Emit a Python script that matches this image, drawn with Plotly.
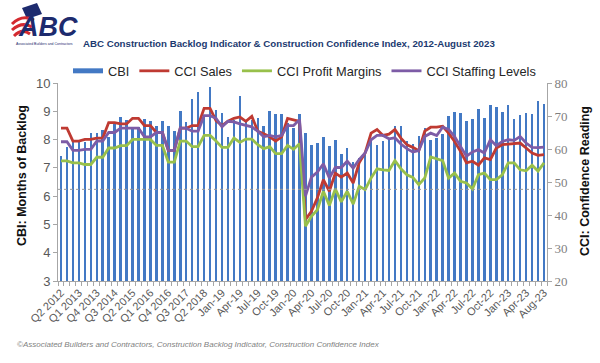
import plotly.graph_objects as go

# ---------------- data ----------------
categories = [
    "Q2 2012", "Q3 2012", "Q4 2012",
    "Q1 2013", "Q2 2013", "Q3 2013", "Q4 2013",
    "Q1 2014", "Q2 2014", "Q3 2014", "Q4 2014",
    "Q1 2015", "Q2 2015", "Q3 2015", "Q4 2015",
    "Q1 2016", "Q2 2016", "Q3 2016", "Q4 2016",
    "Q1 2017", "Q2 2017", "Q3 2017", "Q4 2017",
    "Q1 2018", "Q2 2018", "Q3 2018", "Q4 2018",
    "Jan-19", "Feb-19", "Mar-19", "Apr-19", "May-19", "Jun-19",
    "Jul-19", "Aug-19", "Sep-19", "Oct-19", "Nov-19", "Dec-19",
    "Jan-20", "Feb-20", "Mar-20", "Apr-20", "May-20", "Jun-20",
    "Jul-20", "Aug-20", "Sep-20", "Oct-20", "Nov-20", "Dec-20",
    "Jan-21", "Feb-21", "Mar-21", "Apr-21", "May-21", "Jun-21",
    "Jul-21", "Aug-21", "Sep-21", "Oct-21", "Nov-21", "Dec-21",
    "Jan-22", "Feb-22", "Mar-22", "Apr-22", "May-22", "Jun-22",
    "Jul-22", "Aug-22", "Sep-22", "Oct-22", "Nov-22", "Dec-22",
    "Jan-23", "Feb-23", "Mar-23", "Apr-23", "May-23", "Jul-23", "Aug-23",
]

cbi = [
    7.42, 7.74, 7.95, 7.93, 7.90, 8.24, 8.22, 8.34, 8.10, 8.54,
    8.79, 8.69, 8.45, 8.45, 8.72, 8.66, 8.49, 8.66, 8.48, 8.32,
    9.00, 8.61, 9.45, 9.67, 8.80, 9.87, 9.05, 8.95, 8.10, 8.70,
    9.55, 8.65, 8.70, 8.77, 8.49, 9.01, 8.90, 8.90, 8.60, 8.40,
    8.90, 8.22, 7.82, 7.87, 8.10, 7.77, 7.97, 7.50, 7.70, 7.22,
    7.35, 7.55, 7.95, 7.82, 7.95, 8.00, 8.48, 8.49, 7.95, 7.85,
    8.13, 8.40, 7.99, 8.05, 8.20, 8.83, 8.98, 8.93, 8.66, 8.72,
    9.07, 8.77, 9.22, 9.16, 8.98, 9.21, 8.72, 8.87, 8.93, 8.89,
    9.36, 9.25,
]

cci_sales = [
    66.3, 66.3, 62.4, 62.4, 62.9, 62.9, 63.3, 63.3, 68.0, 68.0,
    67.6, 67.6, 69.3, 69.3, 67.1, 67.1, 65.0, 65.0, 59.6, 59.6,
    66.3, 66.3, 67.1, 67.1, 72.3, 72.3, 68.6, 67.1, 68.4, 69.3,
    69.7, 68.4, 69.9, 65.4, 64.6, 63.7, 62.4, 63.7, 69.3, 68.9,
    68.4, 38.6, 41.1, 45.2, 50.7, 47.2, 52.7, 51.5, 52.7, 49.7,
    55.8, 58.8, 64.8, 65.9, 64.1, 64.5, 65.9, 63.3, 61.3, 60.5,
    59.5, 65.4, 66.6, 66.6, 66.9, 64.8, 62.3, 59.3, 55.8, 56.3,
    55.1, 57.3, 56.8, 60.3, 61.3, 61.5, 61.6, 61.8, 60.3, 58.8,
    58.1, 58.3,
]

cci_profit_margins = [
    56.4, 56.4, 55.8, 55.8, 55.3, 55.3, 57.5, 57.5, 60.3, 60.3,
    61.0, 61.0, 62.9, 62.9, 62.9, 62.9, 61.1, 61.1, 56.0, 56.0,
    62.4, 62.4, 60.7, 60.7, 64.1, 64.1, 62.4, 60.5, 60.5, 63.3,
    62.0, 63.0, 63.0, 61.3, 60.1, 60.7, 58.6, 58.6, 61.1, 59.9,
    61.6, 36.6, 39.6, 41.6, 47.2, 42.9, 47.9, 44.0, 47.2, 43.3,
    48.7, 47.7, 51.2, 54.0, 53.7, 53.5, 56.5, 54.0, 52.2, 51.4,
    49.2, 51.2, 57.6, 57.0, 56.5, 51.2, 52.7, 50.2, 49.7, 47.9,
    52.2, 52.7, 50.7, 50.7, 52.2, 55.8, 55.8, 53.7, 53.4, 55.1,
    53.3, 55.8,
]

cci_staffing = [
    62.2, 62.2, 59.6, 59.6, 59.9, 59.9, 62.4, 62.4, 65.0, 65.0,
    66.3, 66.3, 66.3, 66.3, 63.7, 63.7, 65.0, 65.0, 59.6, 59.6,
    66.3, 66.3, 65.4, 65.4, 70.1, 70.1, 69.3, 66.7, 68.4, 68.2,
    67.6, 67.1, 66.7, 65.4, 63.7, 64.1, 63.7, 64.1, 67.1, 67.1,
    68.9, 45.7, 51.5, 53.0, 55.5, 51.2, 54.4, 54.4, 56.3, 54.2,
    56.8, 58.8, 62.8, 64.1, 64.1, 63.1, 63.4, 61.5, 60.1, 59.1,
    59.5, 63.8, 64.8, 64.1, 66.6, 65.9, 63.8, 60.8, 57.8, 59.1,
    59.8, 58.8, 62.8, 61.0, 62.3, 62.8, 62.6, 63.8, 61.8, 60.5,
    60.4, 60.6,
]

reference_level = 6.24  # dotted reference line on the CBI axis

# ---------------- layout helpers ----------------
W, H = 600, 363
L, R, T, B = 58, 547, 83, 281


def px(x):
    return (x - L) / (R - L)


def py(y):
    return (B - y) / (B - T)


BLUE = "#4379c4"
RED = "#bf3a32"
GREEN = "#98c04b"
PURPLE = "#7d5ca6"
AXIS = "#a6a6a6"
NAVY = "#1c3a70"
FONT = "Liberation Sans, Arial"

x_idx = list(range(len(categories)))

fig = go.Figure()
fig.add_trace(go.Bar(x=x_idx, y=cbi, name="CBI", marker=dict(color=BLUE, line=dict(width=0)),
                     width=0.42, showlegend=False, hoverinfo="y"))
fig.add_trace(go.Scatter(x=[None], y=[None], mode="lines", name="CBI",
                         line=dict(color=BLUE, width=5)))
for name, vals, color in [("CCI Sales", cci_sales, RED),
                          ("CCI Profit Margins", cci_profit_margins, GREEN),
                          ("CCI Staffing Levels", cci_staffing, PURPLE)]:
    fig.add_trace(go.Scatter(x=x_idx, y=vals, mode="lines", name=name, yaxis="y2",
                             line=dict(color=color, width=2.8)))


def ann(text, x, y, size, color, **kw):
    d = dict(text=text, x=px(x), y=py(y), xref="paper", yref="paper",
             xanchor="center", yanchor="middle", showarrow=False,
             font=dict(size=size, color=color, family=FONT))
    d.update(kw)
    return d


annotations = [
    ann("<b>ABC Construction Backlog Indicator & Construction Confidence Index, 2012-August 2023</b>",
        289, 44, 9.7, NAVY),
    ann("<b>CBI: Months of Backlog</b>", 22, 176, 12.5, "#111111", textangle=-90),
    ann("<b>CCI: Confidence Reading</b>", 585, 181, 12.5, "#111111", textangle=-90),
    ann("<i>©Associated Builders and Contractors, Construction Backlog Indicator, Construction Confidence Index</i>",
        15, 344, 8, "#7f7f7f", xanchor="left"),
    ann("<b><i>ABC</i></b>", 48, 27, 27, "#1d2b6e"),
    ann("Associated Builders and Contractors", 44, 44, 3.5, "#1d2b6e"),
]

shapes = [
    # dotted reference line
    dict(type="line", xref="x", yref="y", x0=-0.5, x1=len(categories) - 1.5,
         y0=reference_level, y1=reference_level, layer="above",
         line=dict(color="#9a9a9a", width=1, dash="dot")),
    # logo star field
    dict(type="path", xref="paper", yref="paper", layer="above",
         path=f"M {px(22)} {py(8)} L {px(37)} {py(3)} L {px(42)} {py(14)} L {px(27)} {py(19)} Z",
         fillcolor="#1d2b6e", line=dict(width=0)),
    # logo stripes
    dict(type="path", xref="paper", yref="paper", layer="above",
         path=f"M {px(12)} {py(24)} Q {px(22)} {py(14)} {px(34)} {py(20)}",
         line=dict(color="#d42a2f", width=3)),
    dict(type="path", xref="paper", yref="paper", layer="above",
         path=f"M {px(12)} {py(30)} Q {px(22)} {py(21)} {px(32)} {py(27)}",
         line=dict(color="#d42a2f", width=3)),
    dict(type="path", xref="paper", yref="paper", layer="above",
         path=f"M {px(14)} {py(36)} Q {px(22)} {py(28)} {px(30)} {py(34)}",
         line=dict(color="#d42a2f", width=3)),
]

fig.update_layout(
    width=W, height=H, autosize=False,
    margin=dict(l=L, r=W - R, t=T, b=H - B, pad=0),
    paper_bgcolor="white", plot_bgcolor="white",
    font=dict(family=FONT, color="#404040"),
    showlegend=True,
    legend=dict(orientation="h", x=px(68), y=py(71), xanchor="left", yanchor="middle",
                font=dict(size=12.8, color="#262626"), bgcolor="rgba(0,0,0,0)",
                itemwidth=30, traceorder="normal"),
    bargap=0,
    xaxis=dict(range=[-0.5, len(categories) - 0.5], tickmode="array",
               tickvals=x_idx[::3], ticktext=categories[::3], tickangle=-45,
               tickfont=dict(size=11, color="#595959"), ticks="",
               showline=True, linecolor=AXIS, linewidth=1, showgrid=False, zeroline=False,
               minor=dict(ticks="outside", ticklen=4, tickcolor=AXIS, tick0=-0.5, dtick=1,
                          showgrid=False)),
    yaxis=dict(range=[3, 10], tick0=3, dtick=1, ticks="outside", ticklen=4, tickcolor=AXIS,
               showline=True, linecolor=AXIS, linewidth=1, showgrid=False, zeroline=False,
               tickfont=dict(size=13, color="#595959")),
    yaxis2=dict(range=[20, 80], tick0=20, dtick=10, overlaying="y", side="right",
                ticks="outside", ticklen=4, tickcolor=AXIS, showline=True, linecolor=AXIS,
                linewidth=1, showgrid=False, zeroline=False,
                tickfont=dict(size=13, color="#7f7f7f", family="Liberation Serif, Times New Roman")),
    annotations=annotations,
    shapes=shapes,
)

fig.write_html("out.html", config={"displayModeBar": False},
               post_script="document.body.style.margin='0';document.body.style.padding='0';")
